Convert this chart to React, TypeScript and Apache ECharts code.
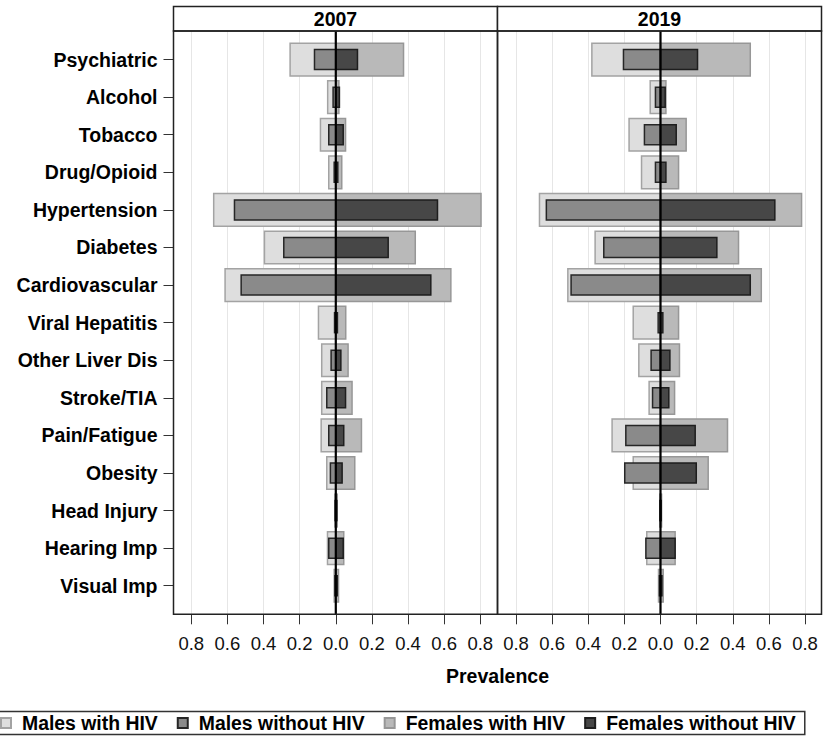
import React, { useEffect, useRef } from "react";
import * as echarts from "echarts";

const categories = [
  "Psychiatric",
  "Alcohol",
  "Tobacco",
  "Drug/Opioid",
  "Hypertension",
  "Diabetes",
  "Cardiovascular",
  "Viral Hepatitis",
  "Other Liver Dis",
  "Stroke/TIA",
  "Pain/Fatigue",
  "Obesity",
  "Head Injury",
  "Hearing Imp",
  "Visual Imp",
];

const years = ["2007", "2019"];
const seriesNames = ["Males with HIV", "Males without HIV", "Females with HIV", "Females without HIV"];

// prevalence values (positive); males are drawn to the left
const malesHIV2007 = [0.253, 0.045, 0.085, 0.039, 0.676, 0.395, 0.613, 0.096, 0.078, 0.078, 0.081, 0.05, 0.005, 0.046, 0.009];
const malesNoHIV2007 = [0.118, 0.015, 0.039, 0.009, 0.561, 0.288, 0.524, 0.007, 0.026, 0.05, 0.039, 0.03, 0.004, 0.039, 0.005];
const femalesHIV2007 = [0.375, 0.017, 0.054, 0.033, 0.804, 0.44, 0.637, 0.055, 0.068, 0.09, 0.142, 0.105, 0.008, 0.044, 0.015];
const femalesNoHIV2007 = [0.12, 0.02, 0.041, 0.011, 0.563, 0.29, 0.526, 0.009, 0.028, 0.054, 0.044, 0.035, 0.006, 0.041, 0.008];

const malesHIV2019 = [0.38, 0.057, 0.174, 0.105, 0.67, 0.362, 0.513, 0.151, 0.12, 0.063, 0.268, 0.151, 0.004, 0.076, 0.011];
const malesNoHIV2019 = [0.205, 0.028, 0.089, 0.028, 0.632, 0.314, 0.495, 0.013, 0.052, 0.044, 0.192, 0.198, 0.003, 0.081, 0.006];
const femalesHIV2019 = [0.497, 0.03, 0.142, 0.1, 0.781, 0.432, 0.558, 0.1, 0.105, 0.078, 0.371, 0.264, 0.006, 0.081, 0.015];
const femalesNoHIV2019 = [0.205, 0.026, 0.087, 0.03, 0.633, 0.312, 0.497, 0.013, 0.052, 0.046, 0.192, 0.198, 0.004, 0.081, 0.008];

const FONT = '"Liberation Sans", Arial, Helvetica, sans-serif';

export default function App() {
  const ref = useRef<HTMLDivElement>(null);

  useEffect(() => {
    if (!ref.current) return;
    const chart = echarts.init(ref.current, null, { renderer: "svg" });

    const panelData = [
      { males: malesHIV2007, malesNo: malesNoHIV2007, females: femalesHIV2007, femalesNo: femalesNoHIV2007 },
      { males: malesHIV2019, malesNo: malesNoHIV2019, females: femalesHIV2019, femalesNo: femalesNoHIV2019 },
    ];

    const styles: Record<string, any> = {
      "Males with HIV": { sign: -1, frac: 0.87, color: "#dedede", border: "#a3a3a3", bw: 1.5, z: 2 },
      "Females with HIV": { sign: 1, frac: 0.87, color: "#b9b9b9", border: "#979797", bw: 1.5, z: 2 },
      "Males without HIV": { sign: -1, frac: 0.532, color: "#8a8a8a", border: "#262626", bw: 1.5, z: 3 },
      "Females without HIV": { sign: 1, frac: 0.532, color: "#474747", border: "#1e1e1e", bw: 1.5, z: 3 },
    };

    const makeRender = (sign: number, frac: number) => (params: any, api: any) => {
      const v = api.value(0) * sign;
      const idx = api.value(1);
      const p0 = api.coord([0, idx]);
      const p1 = api.coord([v, idx]);
      const unit = Math.abs(api.size([0, 1])[1]);
      const h = unit * frac;
      return {
        type: "rect",
        shape: { x: Math.min(p0[0], p1[0]), y: p0[1] - h / 2, width: Math.abs(p1[0] - p0[0]), height: h },
        style: api.style(),
      };
    };

    const series: any[] = [];
    panelData.forEach((pd, pi) => {
      const byName: Record<string, number[]> = {
        "Males with HIV": pd.males,
        "Females with HIV": pd.females,
        "Males without HIV": pd.malesNo,
        "Females without HIV": pd.femalesNo,
      };
      ["Males with HIV", "Females with HIV", "Males without HIV", "Females without HIV"].forEach((name) => {
        const s = styles[name];
        series.push({
          type: "custom",
          name,
          xAxisIndex: pi,
          yAxisIndex: pi,
          clip: false,
          z: s.z,
          encode: { x: 0, y: 1 },
          itemStyle: { color: s.color, borderColor: s.border, borderWidth: s.bw },
          renderItem: makeRender(s.sign, s.frac),
          data: byName[name].map((v, i) => [v, i]),
        });
      });
      // zero reference line
      series.push({
        type: "custom",
        name: "zero" + pi,
        xAxisIndex: pi,
        yAxisIndex: pi,
        clip: false,
        z: 6,
        silent: true,
        encode: { x: 0, y: 1 },
        renderItem: (params: any, api: any) => {
          const p = api.coord([0, 0]);
          const cs = params.coordSys;
          return {
            type: "line",
            shape: { x1: p[0], y1: cs.y, x2: p[0], y2: cs.y + cs.height },
            style: { stroke: "#000", lineWidth: 2.2 },
          };
        },
        data: [[0, 0]],
      });
    });

    const panelLefts = [191.3, 516];
    const plotTop = 31;
    const plotH = 583.3;

    const xAxes: any[] = panelLefts.map((_, pi) => ({
      type: "value",
      gridIndex: pi,
      position: "bottom",
      min: -0.8,
      max: 0.8,
      interval: 0.2,
      axisLine: { show: false, onZero: false },
      axisTick: { show: true, length: 10, lineStyle: { color: "#333", width: 1 } },
      axisLabel: {
        show: true,
        showMinLabel: true,
        showMaxLabel: true,
        margin: 20,
        fontSize: 18.5,
        fontFamily: FONT,
        color: "#111",
        formatter: (v: number) => Math.abs(v).toFixed(1),
      },
      splitLine: { show: true, lineStyle: { color: "#e6e6e6", width: 1 } },
    }));
    xAxes.push({ type: "value", gridIndex: 2, show: false });

    const yAxes: any[] = panelLefts.map((_, pi) => ({
      type: "value",
      gridIndex: pi,
      min: -0.76,
      max: 14.76,
      inverse: true,
      show: false,
    }));
    yAxes.push({
      type: "category",
      gridIndex: 2,
      data: categories,
      inverse: true,
      boundaryGap: true,
      axisLine: { show: false },
      axisTick: { show: true, alignWithLabel: true, length: 10, lineStyle: { color: "#333", width: 1 } },
      axisLabel: { fontSize: 19.5, fontWeight: "bold", fontFamily: FONT, color: "#000", margin: 16 },
      splitLine: { show: false },
    });

    const frameL = 173.5;
    const frameMid = 497.5;
    const frameR = 821.5;

    const option: any = {
      animation: false,
      backgroundColor: "#fff",
      textStyle: { fontFamily: FONT },
      grid: [
        { left: panelLefts[0], top: plotTop, width: 289, height: plotH },
        { left: panelLefts[1], top: plotTop, width: 289, height: plotH },
        { left: frameL, top: 40.8, width: 1, height: 563.7 },
      ],
      xAxis: xAxes,
      yAxis: yAxes,
      legend: {
        data: seriesNames,
        left: -9,
        top: 711.5,
        orient: "horizontal",
        icon: "rect",
        itemWidth: 10,
        itemHeight: 10,
        itemGap: 19,
        padding: [2, 9, 2, 9],
        borderColor: "#333",
        borderWidth: 1.5,
        selectedMode: false,
        textStyle: { fontSize: 19.4, fontWeight: "bold", color: "#000", fontFamily: FONT, padding: [0, 0, 0, 6] },
      },
      graphic: [
        {
          type: "rect",
          z: 100,
          shape: { x: frameL, y: 6.5, width: frameMid - frameL, height: plotTop - 6.5 },
          style: { fill: "#fff", stroke: "#222", lineWidth: 1.5 },
        },
        {
          type: "rect",
          z: 100,
          shape: { x: frameMid, y: 6.5, width: frameR - frameMid, height: plotTop - 6.5 },
          style: { fill: "#fff", stroke: "#222", lineWidth: 1.5 },
        },
        {
          type: "rect",
          z: 100,
          shape: { x: frameL, y: plotTop, width: frameMid - frameL, height: plotH },
          style: { fill: "none", stroke: "#222", lineWidth: 1.5 },
        },
        {
          type: "rect",
          z: 100,
          shape: { x: frameMid, y: plotTop, width: frameR - frameMid, height: plotH },
          style: { fill: "none", stroke: "#222", lineWidth: 1.5 },
        },
        {
          type: "text",
          z: 101,
          x: (frameL + frameMid) / 2,
          y: 19,
          style: { text: years[0], fontSize: 19.5, fontWeight: "bold", fontFamily: FONT, fill: "#000", align: "center", verticalAlign: "middle" },
        },
        {
          type: "text",
          z: 101,
          x: (frameMid + frameR) / 2,
          y: 19,
          style: { text: years[1], fontSize: 19.5, fontWeight: "bold", fontFamily: FONT, fill: "#000", align: "center", verticalAlign: "middle" },
        },
        {
          type: "text",
          z: 101,
          x: frameMid,
          y: 676,
          style: { text: "Prevalence", fontSize: 19.5, fontWeight: "bold", fontFamily: FONT, fill: "#000", align: "center", verticalAlign: "middle" },
        },
      ],
      series,
    };

    chart.setOption(option);
    return () => chart.dispose();
  }, []);

  return <div ref={ref} style={{ position: "absolute", left: 0, top: 0, width: 831, height: 736 }} />;
}
